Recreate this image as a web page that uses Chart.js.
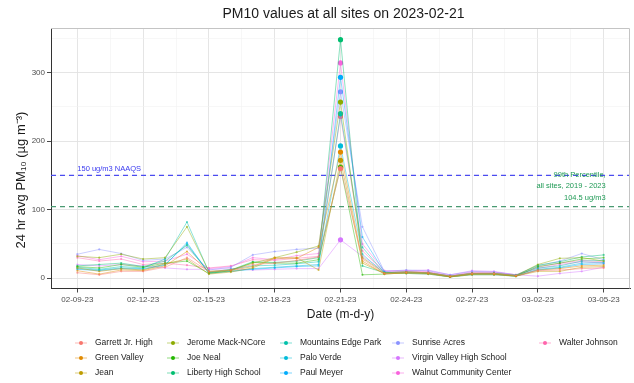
<!DOCTYPE html>
<html>
<head>
<meta charset="utf-8">
<script src="https://cdn.jsdelivr.net/npm/chart.js@4.4.1/dist/chart.umd.min.js"></script>
<style>
  html, body { margin: 0; padding: 0; background: #fff; }
</style>
</head>
<body>
<canvas id="chart" width="634" height="383"></canvas>
<script>
// dates shown on the x axis (one point per day)
const dates = [
    '02-09-23', '02-10-23', '02-11-23', '02-12-23', '02-13-23', '02-14-23', '02-15-23',
    '02-16-23', '02-17-23', '02-18-23', '02-19-23', '02-20-23', '02-21-23', '02-22-23',
    '02-23-23', '02-24-23', '02-25-23', '02-26-23', '02-27-23', '02-28-23', '03-01-23',
    '03-02-23', '03-03-23', '03-04-23', '03-05-23'
];
const peakDate = '02-21-23';

const sites = [
    'Garrett Jr. High', 'Green Valley', 'Jean', 'Jerome Mack-NCore', 'Joe Neal',
    'Liberty High School', 'Mountains Edge Park', 'Palo Verde', 'Paul Meyer',
    'Sunrise Acres', 'Virgin Valley High School', 'Walnut Community Center', 'Walter Johnson'
];
const siteColors = [
    '#F8766D', '#E18A00', '#BE9C00', '#8CAB00', '#24B700', '#00BE70', '#00C1AB',
    '#00BBDA', '#00ACFC', '#8B93FF', '#D575FE', '#F962DD', '#FF65AC'
];

// 24 hr avg PM10 per site
const garrett       = [8, 5, 10, 10, 16, 30, 10, 12, 20, 22, 26, 31, 160, 28, 7, 9, 8, 3, 7, 7, 4, 11, 12, 14, 15];
const greenValley   = [11, 6, 12, 11, 18, 39, 9, 11, 17, 30, 29, 45, 184, 25, 6, 8, 7, 2, 6, 6, 3, 12, 14, 18, 19];
const jean          = [15, 10, 14, 12, 21, 28, 6, 9, 15, 29, 30, 12, 172, 22, 7, 7, 6, 2, 5, 5, 3, 10, 10, 16, 17];
const jeromeMack    = [32, 30, 35, 28, 30, 75, 10, 12, 22, 30, 38, 47, 257, 30, 8, 9, 8, 3, 7, 7, 4, 20, 29, 30, 25];
const joeNeal       = [17, 15, 20, 16, 22, 25, 7, 11, 23, 22, 22, 27, 162, 5, 6, 8, 7, 2, 6, 6, 3, 17, 22, 28, 30];
const liberty       = [18, 20, 22, 17, 25, 48, 8, 12, 24, 23, 25, 30, 348, 18, 8, 9, 8, 3, 7, 7, 4, 19, 24, 31, 34];
const mountainsEdge = [16, 13, 17, 15, 28, 82, 9, 13, 18, 19, 21, 24, 240, 45, 8, 9, 8, 3, 7, 7, 4, 15, 18, 25, 26];
const paloVerde     = [14, 12, 15, 14, 20, 50, 8, 10, 14, 16, 18, 20, 193, 35, 7, 8, 7, 2, 6, 6, 3, 13, 16, 22, 23];
const paulMeyer     = [13, 11, 14, 13, 19, 52, 7, 10, 13, 15, 17, 18, 293, 60, 9, 7, 6, 2, 5, 5, 3, 12, 15, 20, 21];
const sunrise       = [35, 42, 36, 26, 28, 45, 12, 16, 34, 39, 42, 44, 272, 75, 10, 12, 11, 5, 10, 9, 5, 18, 25, 36, 27];
const virginValley  = [20, 18, 20, 18, 15, 13, 13, 14, 12, 13, 14, 14, 56, 32, 10, 11, 12, 5, 11, 10, 5, 3, 7, 10, 16];
const walnut        = [33, 27, 32, 24, 25, 35, 14, 17, 30, 27, 33, 36, 314, 50, 11, 11, 10, 4, 9, 9, 5, 14, 20, 24, 22];
const walterJohnson = [30, 25, 28, 20, 22, 19, 15, 18, 27, 26, 29, 32, 236, 40, 9, 10, 9, 3, 8, 8, 4, 16, 22, 26, 24];

const seriesValues = [garrett, greenValley, jean, jeromeMack, joeNeal, liberty, mountainsEdge,
    paloVerde, paulMeyer, sunrise, virginValley, walnut, walterJohnson];

// reference levels
const naaqs = 150;
const percentile99 = 104.5;

const xTicks = [0, 3, 6, 9, 12, 15, 18, 21, 24];
const yTicks = [0, 100, 200, 300];

const FONT = 'Liberation Sans, Arial, sans-serif';
const xMin = -1.2, xMax = 25.2;
const peakIndex = dates.indexOf(peakDate);

function withAlpha(hex, a) {
    const n = parseInt(hex.slice(1), 16);
    return `rgba(${n >> 16},${(n >> 8) & 255},${n & 255},${a})`;
}

const datasets = sites.map((name, k) => ({
    label: name,
    data: seriesValues[k].map((v, i) => ({x: i, y: v})),
    borderColor: withAlpha(siteColors[k], 0.45),
    borderWidth: 1,
    pointRadius: ctx => ctx.dataIndex === peakIndex ? 2.6 : 1.1,
    pointBackgroundColor: ctx => ctx.dataIndex === peakIndex ? siteColors[k] : withAlpha(siteColors[k], 0.6),
    pointBorderWidth: 0,
    tension: 0
}));

datasets.push({
    label: 'naaqs',
    data: [{x: xMin, y: naaqs}, {x: xMax, y: naaqs}],
    borderColor: '#4b4bf0',
    borderWidth: 1.4,
    borderDash: [5, 4],
    pointRadius: 0
});
datasets.push({
    label: 'p99',
    data: [{x: xMin, y: percentile99}, {x: xMax, y: percentile99}],
    borderColor: '#4a9a72',
    borderWidth: 1.4,
    borderDash: [5, 4],
    pointRadius: 0
});

const extras = {
    id: 'extras',
    afterDraw(chart) {
        const {ctx, chartArea: a, scales: {x, y}} = chart;
        ctx.save();
        // panel border (top / right)
        ctx.strokeStyle = '#c4c4c4';
        ctx.lineWidth = 1;
        ctx.beginPath();
        ctx.moveTo(a.left, a.top + 0.5);
        ctx.lineTo(a.right - 0.5, a.top + 0.5);
        ctx.lineTo(a.right - 0.5, a.bottom);
        ctx.stroke();

        // title
        ctx.fillStyle = '#1a1a1a';
        ctx.font = `14px ${FONT}`;
        ctx.textAlign = 'center';
        ctx.textBaseline = 'middle';
        ctx.fillText('PM10 values at all sites on 2023-02-21', (a.left + a.right) / 2 + 3, 14);

        // y axis title
        ctx.save();
        ctx.translate(21, 180);
        ctx.rotate(-Math.PI / 2);
        ctx.font = `13px ${FONT}`;
        ctx.fillText('24 hr avg PM₁₀ (µg m⁻³)', 0, 0);
        ctx.restore();

        // reference labels
        ctx.font = `7.5px ${FONT}`;
        ctx.fillStyle = '#3a3af0';
        ctx.textAlign = 'left';
        ctx.fillText('150 ug/m3 NAAQS', x.getPixelForValue(0), y.getPixelForValue(160));
        ctx.fillStyle = '#1f9a55';
        ctx.textAlign = 'right';
        const rx = x.getPixelForValue(24) + 2;
        ctx.fillText('99th Percentile,', rx, y.getPixelForValue(150));
        ctx.fillText('all sites, 2019 - 2023', rx, y.getPixelForValue(134.5));
        ctx.fillText('104.5 ug/m3', rx, y.getPixelForValue(117));

        // legend, filled by column like ggplot
        const colX = [81, 173, 286, 398, 545];
        const rowY = [343, 358, 373];
        ctx.font = `8.5px ${FONT}`;
        ctx.textAlign = 'left';
        sites.forEach((name, k) => {
            const cx = colX[Math.floor(k / 3)];
            const cy = rowY[k % 3];
            ctx.strokeStyle = withAlpha(siteColors[k], 0.5);
            ctx.lineWidth = 1;
            ctx.beginPath();
            ctx.moveTo(cx - 6, cy);
            ctx.lineTo(cx + 6, cy);
            ctx.stroke();
            ctx.fillStyle = siteColors[k];
            ctx.beginPath();
            ctx.arc(cx, cy, 2, 0, Math.PI * 2);
            ctx.fill();
            ctx.fillStyle = '#1a1a1a';
            ctx.fillText(name, cx + 14, cy);
        });
        ctx.restore();
    }
};

new Chart(document.getElementById('chart'), {
    type: 'line',
    data: {datasets},
    plugins: [extras],
    options: {
        responsive: false,
        animation: false,
        layout: {padding: {top: 28, right: 2, left: 0, bottom: 0}},
        plugins: {legend: {display: false}, tooltip: {enabled: false}},
        scales: {
            x: {
                type: 'linear',
                min: xMin,
                max: xMax,
                afterBuildTicks: scale => {
                    scale.ticks = [];
                    for (let v = 0; v <= 24; v += 1.5) scale.ticks.push({value: v});
                },
                afterFit: scale => { scale.height = 94.5; },
                ticks: {
                    autoSkip: false,
                    maxRotation: 0,
                    padding: 2,
                    color: '#4d4d4d',
                    font: {family: FONT, size: 8},
                    callback: v => xTicks.includes(v) ? dates[v] : ''
                },
                grid: {
                    color: c => xTicks.includes(c.tick.value) ? '#e2e2e2' : '#f1f1f1',
                    lineWidth: c => xTicks.includes(c.tick.value) ? 0.9 : 0.6,
                    tickColor: c => xTicks.includes(c.tick.value) ? '#333' : 'rgba(0,0,0,0)',
                    tickLength: 4
                },
                border: {color: '#333', width: 1},
                title: {
                    display: true,
                    text: 'Date (m-d-y)',
                    color: '#1a1a1a',
                    font: {family: FONT, size: 12},
                    padding: {top: 0, bottom: 61}
                }
            },
            y: {
                min: -15,
                max: 365,
                afterBuildTicks: scale => {
                    scale.ticks = [];
                    for (let v = 0; v <= 350; v += 50) scale.ticks.push({value: v});
                },
                afterFit: scale => { scale.width = 51; },
                ticks: {
                    padding: 2,
                    color: '#4d4d4d',
                    font: {family: FONT, size: 8},
                    callback: v => yTicks.includes(v) ? String(v) : ''
                },
                grid: {
                    color: c => yTicks.includes(c.tick.value) ? '#e2e2e2' : '#f1f1f1',
                    lineWidth: c => yTicks.includes(c.tick.value) ? 0.9 : 0.6,
                    tickColor: c => yTicks.includes(c.tick.value) ? '#333' : 'rgba(0,0,0,0)',
                    tickLength: 4
                },
                border: {color: '#333', width: 1}
            }
        }
    }
});
</script>
</body>
</html>
